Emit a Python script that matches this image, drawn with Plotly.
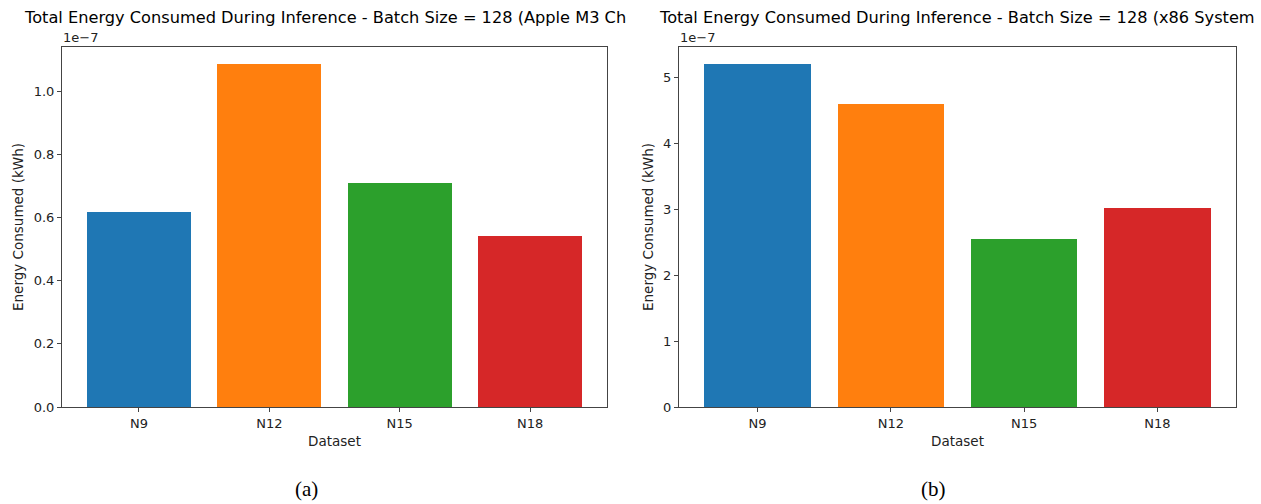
import plotly.graph_objects as go

# ---------------------------------------------------------------------------
# Data (kWh)
# ---------------------------------------------------------------------------
datasets = ["N9", "N12", "N15", "N18"]
energy_apple_m3 = [0.617e-7, 1.085e-7, 0.709e-7, 0.540e-7]
energy_x86 = [5.20e-7, 4.59e-7, 2.545e-7, 3.015e-7]

colors = ["#1f77b4", "#ff7f0e", "#2ca02c", "#d62728"]
scale = 1e-7

title_a = "Total Energy Consumed During Inference - Batch Size = 128 (Apple M3 Ch"
title_b = "Total Energy Consumed During Inference - Batch Size = 128 (x86 System"

W, H = 1261, 504
FONT = "DejaVu Sans"


def px(x):
    return x / W


def py(y):
    return 1 - y / H


fig = go.Figure()

fig.add_trace(
    go.Bar(
        x=datasets,
        y=[v / scale for v in energy_apple_m3],
        marker=dict(color=colors, line=dict(width=0)),
        width=0.8,
        xaxis="x",
        yaxis="y",
        showlegend=False,
        hoverinfo="skip",
    )
)
fig.add_trace(
    go.Bar(
        x=datasets,
        y=[v / scale for v in energy_x86],
        marker=dict(color=colors, line=dict(width=0)),
        width=0.8,
        xaxis="x2",
        yaxis="y2",
        showlegend=False,
        hoverinfo="skip",
    )
)

axis_common = dict(
    showline=True,
    linecolor="#444",
    linewidth=1,
    mirror=True,
    ticks="outside",
    ticklen=4,
    tickcolor="#444",
    showgrid=False,
    zeroline=False,
    automargin=False,
    tickfont=dict(family=FONT, size=13, color="#222"),
)

ymax_a = max(energy_apple_m3) / scale * 1.05
ymax_b = max(energy_x86) / scale * 1.05

fig.update_layout(
    width=W,
    height=H,
    margin=dict(l=0, r=0, t=0, b=0, autoexpand=False),
    plot_bgcolor="white",
    paper_bgcolor="white",
    font=dict(family=FONT, size=13, color="#222"),
    bargap=0,
    xaxis=dict(
        axis_common,
        domain=[px(62), px(607)],
        range=[-0.59, 3.59],
        anchor="y",
        title=dict(text="Dataset", font=dict(size=13.5), standoff=6),
    ),
    yaxis=dict(
        axis_common,
        domain=[py(407), py(47)],
        range=[0, ymax_a],
        tickvals=[0, 0.2, 0.4, 0.6, 0.8, 1.0],
        ticktext=["0.0", "0.2", "0.4", "0.6", "0.8", "1.0"],
        anchor="x",
        title=dict(text="Energy Consumed (kWh)", font=dict(size=13.5), standoff=6),
    ),
    xaxis2=dict(
        axis_common,
        domain=[px(679), px(1236)],
        range=[-0.59, 3.59],
        anchor="y2",
        title=dict(text="Dataset", font=dict(size=13.5), standoff=6),
    ),
    yaxis2=dict(
        axis_common,
        domain=[py(407), py(47)],
        range=[0, ymax_b],
        tickvals=[0, 1, 2, 3, 4, 5],
        anchor="x2",
        title=dict(text="Energy Consumed (kWh)", font=dict(size=13.5), standoff=6),
    ),
)

annotations = [
    # titles (clipped as in the source panels)
    dict(text=title_a, x=px(22), y=py(18), xanchor="left", yanchor="middle",
         font=dict(family=FONT, size=16.2, color="black")),
    dict(text=title_b, x=px(657), y=py(18), xanchor="left", yanchor="middle",
         font=dict(family=FONT, size=16.2, color="black")),
    # offset text
    dict(text="1e\u22127", x=px(61), y=py(38), xanchor="left", yanchor="middle",
         font=dict(family=FONT, size=13, color="#222")),
    dict(text="1e\u22127", x=px(678), y=py(38), xanchor="left", yanchor="middle",
         font=dict(family=FONT, size=13, color="#222")),
    # captions
    dict(text="(a)", x=px(306), y=py(489), xanchor="center", yanchor="middle",
         font=dict(family="Liberation Serif", size=21, color="black")),
    dict(text="(b)", x=px(933), y=py(489), xanchor="center", yanchor="middle",
         font=dict(family="Liberation Serif", size=21, color="black")),
]
for a in annotations:
    a.update(xref="paper", yref="paper", showarrow=False)
fig.update_layout(annotations=annotations)

fig.write_html(
    "out.html",
    config={"displayModeBar": False},
    post_script=(
        "document.body.style.margin='0';"
        "document.documentElement.style.overflow='hidden';"
        "var d=document.getElementById('{plot_id}');"
        "d.style.position='fixed';d.style.top='0';d.style.left='0';"
    ),
)
